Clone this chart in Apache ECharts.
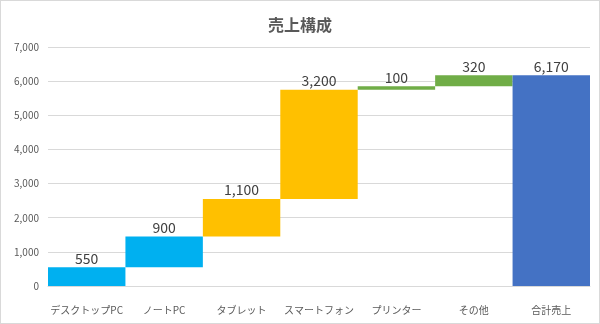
<!DOCTYPE html>
<html>
<head>
<meta charset="utf-8">
<script src="https://cdn.jsdelivr.net/npm/echarts@6/dist/echarts.min.js"></script>
<style>
  html, body { margin: 0; padding: 0; background: #fff; }
  #frame { position: absolute; left: 0; top: 0; width: 598px; height: 322px; border: 1px solid #d9d9d9; }
  #chart { width: 600px; height: 324px; }
</style>
</head>
<body>
<div id="frame"></div>
<div id="chart"></div>
<script>
// Sales breakdown by product (waterfall)
const categories = ['デスクトップPC', 'ノートPC', 'タブレット', 'スマートフォン', 'プリンター', 'その他', '合計売上'];
const amounts = [550, 900, 1100, 3200, 100, 320, 6170];
const barColors = ['#00B0F0', '#00B0F0', '#FFC000', '#FFC000', '#70AD47', '#70AD47', '#4472C4'];
const yTicks = [0, 1000, 2000, 3000, 4000, 5000, 6000, 7000];

// invisible offsets: running total before each step; the total bar starts at 0
const offsets = [];
let running = 0;
for (let i = 0; i < amounts.length; i++) {
  if (i === amounts.length - 1) { offsets.push(0); }
  else { offsets.push(running); running += amounts[i]; }
}

const fmt = v => v.toLocaleString('en-US');
const font = '"Noto Sans CJK JP", "Noto Sans", sans-serif';

const chart = echarts.init(document.getElementById('chart'), null, { renderer: 'canvas' });
chart.setOption({
  animation: false,
  textStyle: { fontFamily: font },
  title: {
    text: '売上構成',
    left: 'center',
    top: 12,
    textStyle: { fontFamily: font, fontSize: 16, fontWeight: 'bold', color: '#595959' }
  },
  grid: { left: 48, right: 10, top: 47, bottom: 38, containLabel: false },
  xAxis: {
    type: 'category',
    data: categories,
    axisTick: { show: false },
    axisLine: { lineStyle: { color: '#d9d9d9' } },
    axisLabel: { color: '#595959', fontSize: 10, margin: 19, interval: 0, fontFamily: font }
  },
  yAxis: {
    type: 'value',
    min: yTicks[0],
    max: yTicks[yTicks.length - 1],
    interval: 1000,
    axisLine: { show: false },
    axisTick: { show: false },
    splitLine: { lineStyle: { color: '#d9d9d9' } },
    axisLabel: { color: '#595959', fontSize: 10, margin: 9, formatter: v => fmt(v), fontFamily: font }
  },
  series: [
    {
      type: 'bar',
      stack: 'w',
      data: offsets,
      barCategoryGap: '0%',
      itemStyle: { color: 'transparent' },
      emphasis: { disabled: true },
      silent: true
    },
    {
      type: 'bar',
      stack: 'w',
      barCategoryGap: '0%',
      data: amounts.map((v, i) => ({ value: v, itemStyle: { color: barColors[i] } })),
      label: {
        show: true,
        position: 'top',
        distance: 2,
        color: '#404040',
        fontSize: 14,
        fontFamily: font,
        formatter: p => fmt(p.value)
      }
    }
  ]
});
</script>
</body>
</html>
